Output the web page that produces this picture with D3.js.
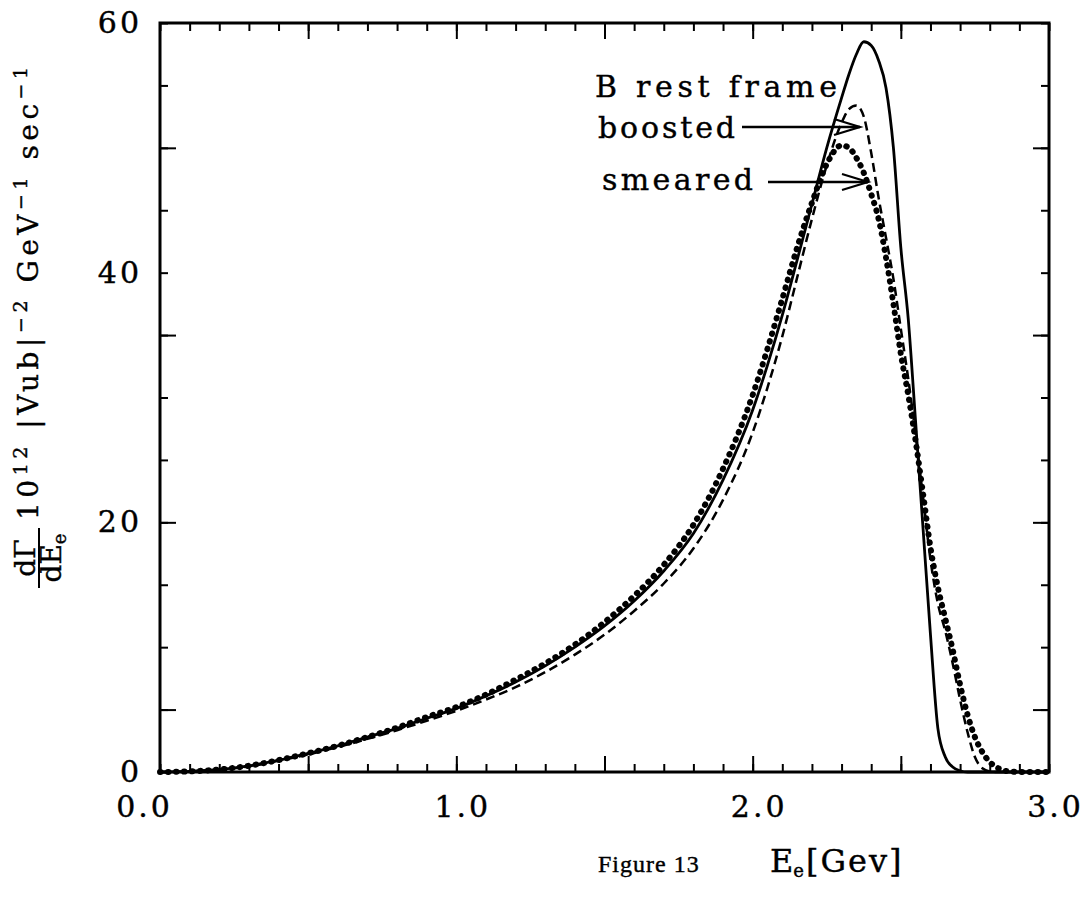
<!DOCTYPE html>
<html>
<head>
<meta charset="utf-8">
<script src="https://cdn.jsdelivr.net/npm/d3@7"></script>
<style>
  body { margin: 0; background: #fff; }
  svg { display: block; }
  text { fill: #000; stroke: #000; stroke-width: 0.4; font-family: "DejaVu Serif", serif; }
</style>
</head>
<body>
<svg width="1088" height="900"></svg>
<script>
// electron energy grid (GeV) shared by the three spectra
const energy = [0, 0.1, 0.2, 0.3, 0.4, 0.5, 0.6, 0.7, 0.8, 0.9, 1.0, 1.1, 1.2, 1.3, 1.4, 1.5, 1.6, 1.7, 1.8,
  1.9, 2.0, 2.05, 2.1, 2.15, 2.2, 2.25, 2.3, 2.325, 2.35, 2.375, 2.4, 2.425, 2.45, 2.475, 2.5, 2.525, 2.55,
  2.575, 2.6, 2.625, 2.65, 2.675, 2.7, 2.725, 2.75, 2.775, 2.8, 2.825, 2.85, 2.9, 3.0];

// dGamma/dEe
const restFrame = [0, 0.05, 0.2, 0.5, 0.95, 1.5, 2.1, 2.8, 3.5, 4.3, 5.1, 6.1, 7.2, 8.5, 10.0, 11.7, 13.7, 16.1, 19.1,
  23.4, 29.0, 32.6, 36.6, 41.0, 45.5, 50.0, 54.0, 55.9, 57.5, 58.5, 58.2, 57.0, 54.8, 50.0, 42.0, 36.3, 28.0,
  19.5, 11.0, 3.5, 1.2, 0.4, 0.1, 0, 0, 0, 0, 0, 0, 0, 0];
const boosted = [0, 0.05, 0.2, 0.45, 0.9, 1.4, 2.0, 2.65, 3.35, 4.1, 4.9, 5.8, 6.8, 8.0, 9.4, 11.0, 12.9, 15.1, 17.9,
  21.8, 27.2, 30.8, 34.9, 39.6, 44.3, 48.6, 52.0, 53.1, 53.4, 52.5, 49.6, 46.0, 42.8, 39.5, 35.5, 31.5, 27.0,
  22.0, 17.0, 13.5, 11.3, 8.7, 5.8, 3.2, 1.2, 0.3, 0.05, 0, 0, 0, 0];
const smeared = [0, 0.05, 0.2, 0.5, 0.95, 1.5, 2.1, 2.8, 3.55, 4.4, 5.2, 6.2, 7.4, 8.7, 10.2, 12.0, 14.1, 16.6, 19.8,
  24.3, 30.2, 33.9, 37.9, 42.0, 45.6, 48.7, 50.2, 50.0, 49.2, 48.0, 46.3, 44.3, 41.2, 37.5, 33.5, 30.2, 26.5,
  22.3, 18.0, 14.8, 12.3, 9.8, 7.0, 4.6, 2.8, 1.6, 0.8, 0.35, 0.1, 0, 0];

const xTickValues = [0, 1, 2, 3];
const xTickLabels = ["0.0", "1.0", "2.0", "3.0"];
const yTickValues = [0, 20, 40, 60];
const yTickLabels = ["0", "20", "40", "60"];

const svg = d3.select("svg");
svg.append("rect").attr("width", 1088).attr("height", 900).attr("fill", "#fff");

const x = d3.scaleLinear().domain([0, 3]).range([160, 1049]);
const y = d3.scaleLinear().domain([0, 60]).range([772, 23]);

// ticks point inward on all four sides
const xMinor = d3.range(0, 31).map(d => d / 10);
const xMajor = [0.5, 1, 1.5, 2, 2.5];
const yMinor = d3.range(0, 13).map(d => d * 5);
const yMajor = [5, 20, 35, 50];

function tickAxis(axis, values, size, transform) {
  const g = svg.append("g")
    .attr("transform", transform)
    .call(axis.tickValues(values).tickSize(-size).tickFormat(""));
  g.select(".domain").remove();
  g.selectAll("line").attr("stroke", "#000").attr("stroke-width", 2);
}
tickAxis(d3.axisBottom(x), xMinor, 8, `translate(0,${y(0)})`);
tickAxis(d3.axisBottom(x), xMajor, 16, `translate(0,${y(0)})`);
tickAxis(d3.axisTop(x), xMinor, 8, `translate(0,${y(60)})`);
tickAxis(d3.axisTop(x), xMajor, 16, `translate(0,${y(60)})`);
tickAxis(d3.axisLeft(y), yMinor, 8, `translate(${x(0)},0)`);
tickAxis(d3.axisLeft(y), yMajor, 16, `translate(${x(0)},0)`);
tickAxis(d3.axisRight(y), yMinor, 8, `translate(${x(3)},0)`);
tickAxis(d3.axisRight(y), yMajor, 16, `translate(${x(3)},0)`);

// frame
svg.append("rect")
  .attr("x", x(0)).attr("y", y(60))
  .attr("width", x(3) - x(0)).attr("height", y(0) - y(60))
  .attr("fill", "none").attr("stroke", "#000").attr("stroke-width", 3);

// tick labels
const xLab = svg.append("g")
  .attr("transform", `translate(0,${y(0)})`)
  .call(d3.axisBottom(x).tickValues(xTickValues).tickSize(0).tickPadding(24)
    .tickFormat((d, i) => xTickLabels[i]));
xLab.select(".domain").remove();
xLab.selectAll("text")
  .attr("font-size", 30)
  .attr("letter-spacing", 3)
  .attr("dx", (d, i) => i === 0 ? -16 : 6);

const yLab = svg.append("g")
  .attr("transform", `translate(${x(0)},0)`)
  .call(d3.axisLeft(y).tickValues(yTickValues).tickSize(0).tickPadding(18)
    .tickFormat((d, i) => yTickLabels[i]));
yLab.select(".domain").remove();
yLab.selectAll("text")
  .attr("font-size", 30)
  .attr("letter-spacing", 3);

// curves
const series = energy.map((e, i) => ({ e, rest: restFrame[i], boost: boosted[i], smear: smeared[i] }));
const line = key => d3.line()
  .x(d => x(d.e))
  .y(d => y(d[key]))
  .curve(d3.curveMonotoneX);

svg.append("path").datum(series)
  .attr("d", line("rest"))
  .attr("fill", "none").attr("stroke", "#000").attr("stroke-width", 2.8);

svg.append("path").datum(series)
  .attr("d", line("boost"))
  .attr("fill", "none").attr("stroke", "#000").attr("stroke-width", 2.5)
  .attr("stroke-dasharray", "9,5");

svg.append("path").datum(series)
  .attr("d", line("smear"))
  .attr("fill", "none").attr("stroke", "#000").attr("stroke-width", 6)
  .attr("stroke-linecap", "round")
  .attr("stroke-dasharray", "0.5,7.5");

// labels with arrows
const legend = [
  { text: "B rest frame", x: 595, y: 97, len: 242 },
  { text: "boosted", x: 598, y: 138, len: 137 },
  { text: "smeared", x: 602, y: 190, len: 151 }
];
svg.selectAll(".legend")
  .data(legend)
  .enter().append("text")
    .attr("class", "legend")
    .attr("x", d => d.x)
    .attr("y", d => d.y)
    .attr("font-size", 30)
    .attr("textLength", d => d.len)
    .attr("lengthAdjust", "spacing")
    .text(d => d.text);

const arrows = [
  { x1: 742, x2: 860, y: 127 },
  { x1: 768, x2: 868, y: 182 }
];
arrows.forEach(a => {
  svg.append("line")
    .attr("x1", a.x1).attr("x2", a.x2).attr("y1", a.y).attr("y2", a.y)
    .attr("stroke", "#000").attr("stroke-width", 2.5);
  svg.append("path")
    .attr("d", `M${a.x2 - 26},${a.y - 8}L${a.x2},${a.y}L${a.x2 - 26},${a.y + 8}`)
    .attr("fill", "none").attr("stroke", "#000").attr("stroke-width", 2.2);
});

// x axis title and caption
const xt = svg.append("text").attr("x", 770).attr("y", 872).attr("font-size", 32);
xt.append("tspan").text("E");
xt.append("tspan").attr("font-size", 18).attr("dy", 5).text("e");
xt.append("tspan").attr("dy", -5).attr("dx", 2).attr("letter-spacing", 2).text("[Gev]");

svg.append("text")
  .attr("x", 598).attr("y", 872)
  .style("font-family", "'Liberation Serif', serif")
  .attr("font-size", 24)
  .attr("letter-spacing", 1)
  .text("Figure 13");

// y axis title (rotated)
const frac = svg.append("g").attr("transform", "translate(39,558) rotate(-90)");
frac.append("text").attr("text-anchor", "middle").attr("y", -4).attr("font-size", 28).text("dΓ");
frac.append("line").attr("x1", -30).attr("x2", 30).attr("y1", 0).attr("y2", 0)
  .attr("stroke", "#000").attr("stroke-width", 2);
const den = frac.append("text").attr("text-anchor", "middle").attr("y", 22).attr("font-size", 28);
den.append("tspan").text("dE");
den.append("tspan").attr("font-size", 18).attr("dy", 5).text("e");

const yt = svg.append("text")
  .attr("transform", "translate(38,520) rotate(-90)")
  .attr("font-size", 28)
  .attr("letter-spacing", 4.5);
yt.append("tspan").text("10");
yt.append("tspan").attr("font-size", 19).attr("dy", -11).text("12");
yt.append("tspan").attr("dy", 11).text(" |Vub|");
yt.append("tspan").attr("font-size", 19).attr("dy", -11).text("−2");
yt.append("tspan").attr("dy", 11).text(" GeV");
yt.append("tspan").attr("font-size", 19).attr("dy", -11).text("−1");
yt.append("tspan").attr("dy", 11).text(" sec");
yt.append("tspan").attr("font-size", 19).attr("dy", -11).text("−1");
</script>
</body>
</html>
